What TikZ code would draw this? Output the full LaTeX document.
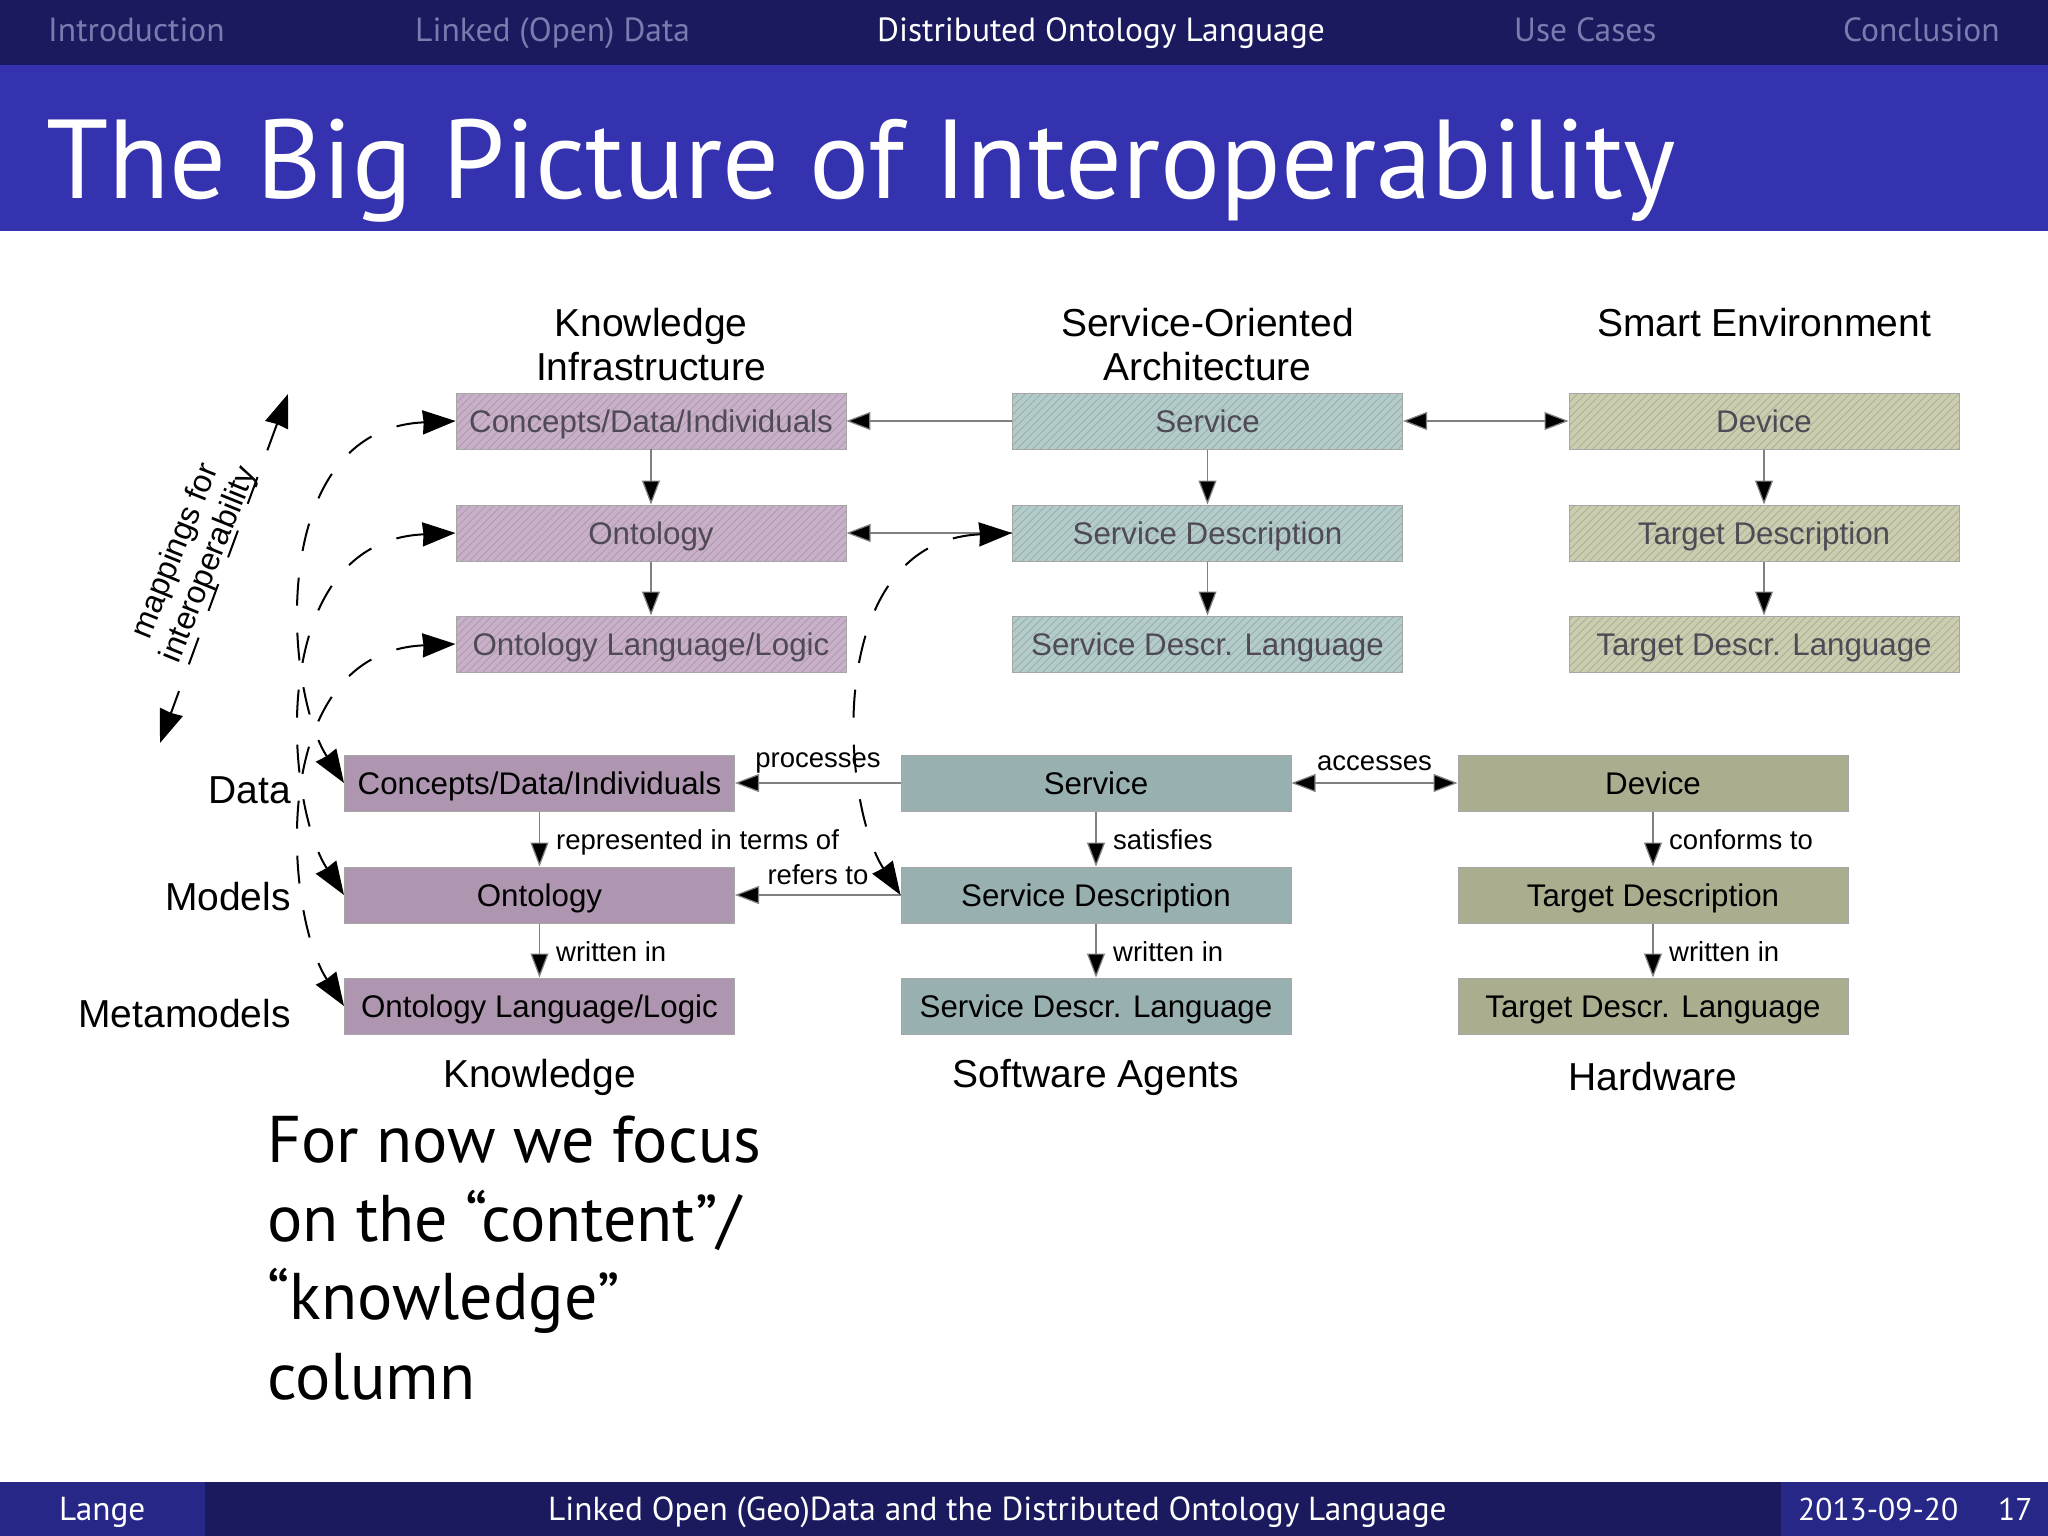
\documentclass[tikz,border=0pt]{standalone}
\usepackage{fontspec}
\setmainfont{PT Sans}
\newfontfamily\arialf{Liberation Sans}
\usetikzlibrary{arrows.meta,patterns.meta}
\definecolor{navdark}{HTML}{1B1A5F}
\definecolor{navmid}{HTML}{3432AE}
\definecolor{navfoot}{HTML}{272788}
\definecolor{navdim}{HTML}{7A7BAE}
\definecolor{kfill}{HTML}{AF96B0}
\definecolor{sfill}{HTML}{99B0B0}
\definecolor{hfill}{HTML}{ABAD8F}
\definecolor{khatch}{HTML}{C9B0C9}
\definecolor{shatch}{HTML}{B3CCCA}
\definecolor{hhatch}{HTML}{CBCCB0}
\definecolor{kline}{HTML}{AB94AD}
\definecolor{sline}{HTML}{93A9A9}
\definecolor{hline}{HTML}{A8AA8D}
\definecolor{dimtext}{HTML}{4F4A55}
\tikzset{
  x=1pt,y=-1pt,
  fbox/.style={draw=black!35,line width=1pt,minimum width=390pt,minimum height=56pt,inner sep=0pt,
    text height=28pt,text depth=6pt,
    font=\arialf\fontsize{31.3}{34}\selectfont,text=black},
  kb/.style={fbox,fill=kfill}, sb/.style={fbox,fill=sfill}, hb/.style={fbox,fill=hfill},
  hbox/.style={fbox,text=dimtext},
  kh/.style={hbox,preaction={fill=khatch},pattern={Lines[distance=5.5pt,angle=45,line width=.7pt]},pattern color=kline},
  sh/.style={hbox,preaction={fill=shatch},pattern={Lines[distance=5.5pt,angle=45,line width=.7pt]},pattern color=sline},
  hh/.style={hbox,preaction={fill=hhatch},pattern={Lines[distance=5.5pt,angle=45,line width=.7pt]},pattern color=hline},
  conn/.style={draw=black!50,line width=1.2pt,-{Triangle[length=24pt,width=18pt,fill=black]}},
  conn2/.style={draw=black!50,line width=1.2pt,{Triangle[length=24pt,width=18pt,fill=black]}-{Triangle[length=24pt,width=18pt,fill=black]}},
  mapc/.style={draw=black,line width=2pt,dash pattern=on 28pt off 27pt,
    {Stealth[length=33pt,width=24pt,inset=1pt]}-{Stealth[length=33pt,width=24pt,inset=1pt]}},
  big/.style={inner sep=0pt,font=\arialf\fontsize{39}{44}\selectfont,text=black},
  lab/.style={inner sep=0pt,font=\arialf\fontsize{27.5}{30}\selectfont,text=black},
  navt/.style={inner sep=0pt,anchor=base west,font=\fontsize{33.5}{36}\selectfont,text=navdim},
  foot/.style={inner sep=0pt,anchor=base west,font=\fontsize{33.3}{36}\selectfont,text=white},
  body/.style={inner sep=0pt,anchor=base west,font=\fontsize{66}{72}\selectfont,text=black},
}
\begin{document}
\begin{tikzpicture}
\useasboundingbox (0,0) rectangle (2048,1536);
\fill[white] (0,0) rectangle (2048,1536);
% bars
\fill[navdark] (0,0) rectangle (2048,65);
\fill[navmid] (0,65) rectangle (2048,231);
\fill[navdark] (0,1482) rectangle (2048,1536);
\fill[navfoot] (0,1482) rectangle (205,1536);
\fill[navfoot] (1781,1482) rectangle (2048,1536);
% navigation
\node[navt] (n1) at (48,42) {Introduction};
\node[navt] (n2) at (415,42) {Linked (Open) Data};
\node[navt,text=white] (n3) at (877,42) {Distributed Ontology Language};
\node[navt] (n4) at (1514,42) {Use Cases};
\node[navt] (n5) at (1843,42) {Conclusion};
% title
\node[inner sep=0pt,anchor=base west,text=white,font=\fontsize{112.2}{120}\selectfont] (title) at (46,198) {The Big Picture of Interoperability};
% top boxes
\node[kh] (k1) at (651,421) {Concepts/Data/Individuals};
\node[kh] (k2) at (651,533) {Ontology};
\node[kh] (k3) at (651,644) {Ontology Language/Logic};
\node[sh] (s1) at (1207.5,421) {Service};
\node[sh] (s2) at (1207.5,533) {Service Description};
\node[sh] (s3) at (1207.5,644) {Service Descr. Language};
\node[hh] (h1) at (1764,421) {Device};
\node[hh] (h2) at (1764,533) {Target Description};
\node[hh] (h3) at (1764,644) {Target Descr. Language};
% bottom boxes
\node[kb] (K1) at (539.5,783) {Concepts/Data/Individuals};
\node[kb] (K2) at (539.5,895) {Ontology};
\node[kb] (K3) at (539.5,1006) {Ontology Language/Logic};
\node[sb] (S1) at (1096,783) {Service};
\node[sb] (S2) at (1096,895) {Service Description};
\node[sb] (S3) at (1096,1006) {Service Descr. Language};
\node[hb] (H1) at (1653,783) {Device};
\node[hb] (H2) at (1653,895) {Target Description};
\node[hb] (H3) at (1653,1006) {Target Descr. Language};
% column headings
\node[big,align=center,anchor=base] (th1) at (651,380) {Knowledge\\[-0.5pt]Infrastructure};
\node[big,align=center,anchor=base] (th2) at (1207.5,380) {Service-Oriented\\[-0.5pt]Architecture};
\node[big,anchor=base] (th3) at (1764,336) {Smart Environment};
\node[big,anchor=base] (bh1) at (539.5,1087) {Knowledge};
\node[big,anchor=base] (bh2) at (1096,1087) {Software Agents};
\node[big,anchor=base] (bh3) at (1653,1090) {Hardware};
% row labels
\node[big,anchor=base east] (r1) at (291,803) {Data};
\node[big,anchor=base east] (r2) at (291,910) {Models};
\node[big,anchor=base east] (r3) at (291,1027) {Metamodels};
% top connectors
\draw[conn] (k1) -- (k2);
\draw[conn] (k2) -- (k3);
\draw[conn] (s1) -- (s2);
\draw[conn] (s2) -- (s3);
\draw[conn] (h1) -- (h2);
\draw[conn] (h2) -- (h3);
\draw[conn] (s1) -- (k1);
\draw[conn] (s2) -- (k2);
\draw[conn2] (s1) -- (h1);
% bottom connectors
\draw[conn] (K1) -- (K2);
\draw[conn] (K2) -- (K3);
\draw[conn] (S1) -- (S2);
\draw[conn] (S2) -- (S3);
\draw[conn] (H1) -- (H2);
\draw[conn] (H2) -- (H3);
\draw[conn] (S1) -- (K1);
\draw[conn] (S2) -- (K2);
\draw[conn2] (S1) -- (H1);
% labels on connectors
\node[lab] (l1) at (818,763) {processes};
\node[lab] (l2) at (818,875) {refers to};
\node[lab] (l3) at (1374.5,763) {accesses};
\node[lab,anchor=base west] (l4) at (556,849) {represented in terms of};
\node[lab,anchor=base west] (l5) at (1113,849) {satisfies};
\node[lab,anchor=base west] (l6) at (1669,849) {conforms to};
\node[lab,anchor=base west] (l7) at (556,961) {written in};
\node[lab,anchor=base west] (l8) at (1113,961) {written in};
\node[lab,anchor=base west] (l9) at (1669,961) {written in};
% dashed mappings
\draw[mapc] (k1.west) .. controls +(-190,8) and +(-60,-93) .. (K1.west);
\draw[mapc] (k2.west) .. controls +(-190,8) and +(-60,-93) .. (K2.west);
\draw[mapc] (k3.west) .. controls +(-190,8) and +(-60,-93) .. (K3.west);
\draw[mapc] (s2.west) .. controls +(-190,8) and +(-60,-93) .. (S2.west);
% mappings for interoperability
\coordinate (up) at (288,394);
\coordinate (down) at (160,743);
\draw[mapc,dash pattern=on 28.5pt off 28.5pt] (up) -- (down);
\node[inner sep=0pt,align=center,rotate=68,font=\arialf\fontsize{32}{36}\selectfont] (mi) at (193,558) {mappings for\\interoperability};
% body text
\node[body] (b1) at (267,1162) {For now we focus};
\node[body] (b2) at (267,1241) {on the “content”/};
\node[body] (b3) at (267,1319) {“knowledge”};
\node[body] (b4) at (267,1399) {column};
% footer
\node[foot] (f1) at (59,1520) {Lange};
\node[foot] (f2) at (548,1520) {Linked Open (Geo)Data and the Distributed Ontology Language};
\node[foot,font=\fontsize{31.5}{36}\selectfont] (f3) at (1798,1520) {2013-09-20};
\node[foot,font=\fontsize{31.5}{36}\selectfont] (f4) at (1998,1520) {17};
\end{tikzpicture}
\end{document}
